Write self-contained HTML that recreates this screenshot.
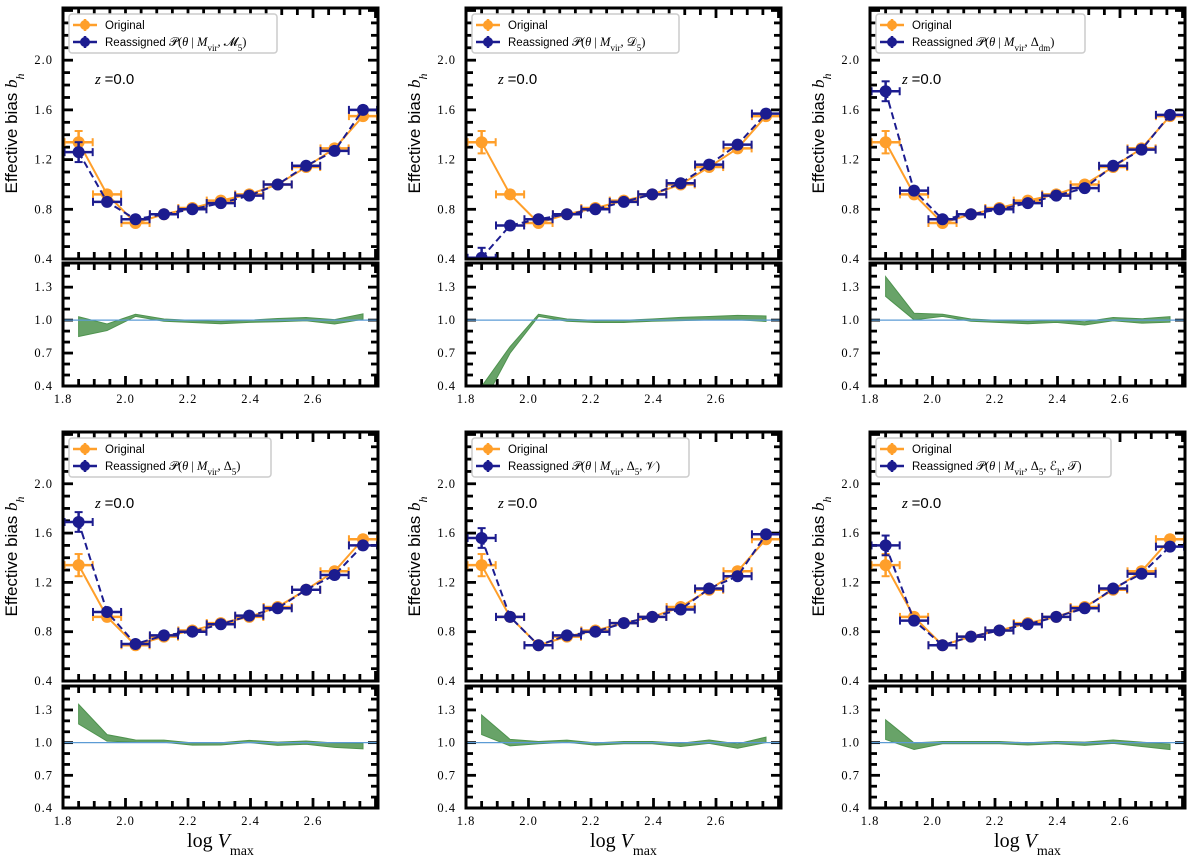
<!DOCTYPE html>
<html><head><meta charset="utf-8"><style>
body{margin:0;background:#fff;}
svg text{font-family:"Liberation Serif",serif;}
</style></head><body>
<svg id="fig" width="1200" height="858" xmlns="http://www.w3.org/2000/svg"></svg>
<script>
const xCenters=[1.85,1.941,2.032,2.123,2.214,2.305,2.396,2.487,2.578,2.669,2.76];
const original=[1.34,0.92,0.69,0.76,0.81,0.87,0.92,1.00,1.14,1.29,1.55];
const originalErr=[0.09,0.03,0.02,0.02,0.02,0.02,0.02,0.02,0.02,0.03,0.03];
const reM5=[1.26,0.86,0.72,0.76,0.80,0.85,0.91,1.00,1.15,1.27,1.60];
const reD5=[0.41,0.67,0.72,0.76,0.80,0.86,0.92,1.01,1.16,1.32,1.57];
const reDdm=[1.75,0.95,0.72,0.76,0.80,0.85,0.91,0.97,1.15,1.28,1.56];
const reDelta5=[1.69,0.96,0.70,0.77,0.80,0.86,0.93,0.99,1.14,1.26,1.50];
const reDelta5V=[1.56,0.92,0.69,0.77,0.80,0.87,0.92,0.98,1.15,1.25,1.59];
const reDelta5ET=[1.50,0.89,0.69,0.76,0.81,0.86,0.92,0.99,1.15,1.27,1.49];
const reErr=[0.08,0.03,0.02,0.02,0.02,0.02,0.02,0.02,0.02,0.03,0.03];
const bandHalf=[0.09,0.03,0.01,0.01,0.01,0.01,0.01,0.015,0.015,0.02,0.025];
const mainTicks=[0.4,0.8,1.2,1.6,2.0];
const ratioTicks=[0.4,0.7,1.0,1.3];
const xTicks=[1.8,2.0,2.2,2.4,2.6];
const labels=["\u{1D4DC}<tspan baseline-shift='sub' font-size='9'>5</tspan>","\u{1D49F}<tspan baseline-shift='sub' font-size='9'>5</tspan>","\u0394<tspan baseline-shift='sub' font-size='9'>dm</tspan>","\u0394<tspan baseline-shift='sub' font-size='9'>5</tspan>","\u0394<tspan baseline-shift='sub' font-size='9'>5</tspan>, \u{1D4B1}","\u0394<tspan baseline-shift='sub' font-size='9'>5</tspan>, \u2130<tspan baseline-shift='sub' font-size='9'>h</tspan>, \u{1D4AF}"];
const series=[reM5,reD5,reDdm,reDelta5,reDelta5V,reDelta5ET];
const NS="http://www.w3.org/2000/svg";
const fig=document.getElementById('fig');
function mk(tag,attrs,parent){const e=document.createElementNS(NS,tag);for(const k in attrs)e.setAttribute(k,attrs[k]);(parent||fig).appendChild(e);return e;}
const OR="#ff9f2a",BL="#1c1c8f";
const colX=[63,466,870],W=315;
const rows=[{mt:8,mb:259,rt:263,rb:386},{mt:432,mb:681,rt:686,rb:808}];
for(let p=0;p<6;p++){
  const c=p%3,r=Math.floor(p/3),L=colX[c],R=L+W,g=rows[r];
  const G=mk('g',{});
  
  
  const X=v=>L+(v-1.8)/(2.808-1.8)*W;
  const Ym=v=>g.mb-(v-0.4)/(2.42-0.4)*(g.mb-g.mt);
  const Yr=v=>g.rb-(v-0.4)/(1.52-0.4)*(g.rb-g.rt);
  const cid='cm'+p,rid='cr'+p;
  const d=mk('defs',{},G);
  mk('rect',{x:L,y:g.mt,width:W,height:g.mb-g.mt},mk('clipPath',{id:cid},d));
  mk('rect',{x:L,y:g.rt,width:W,height:g.rb-g.rt},mk('clipPath',{id:rid},d));
  function ticksX(top,bot){for(let v=1.8;v<2.81;v+=0.05){const x=X(v);const maj=Math.abs((v*10)%2)<0.01||Math.abs((v*10)%2-2)<0.01;const len=maj?10:7;mk('line',{x1:x,x2:x,y1:bot,y2:bot-len,stroke:'#000','stroke-width':2.8},G);mk('line',{x1:x,x2:x,y1:top,y2:top+len,stroke:'#000','stroke-width':2.8},G);}}
  ticksX(g.mt,g.mb);ticksX(g.rt,g.rb);
  for(let v=0.5;v<2.42;v+=0.1){const y=Ym(v);const maj=Math.abs(Math.round(v*10)%4)==0;const len=maj?10:7;mk('line',{x1:L,x2:L+len,y1:y,y2:y,stroke:'#000','stroke-width':2.8},G);mk('line',{x1:R,x2:R-len,y1:y,y2:y,stroke:'#000','stroke-width':2.8},G);}
  for(let v=0.5;v<1.52;v+=0.1){const y=Yr(v);const maj=Math.abs(Math.round(v*10)%3)==1;const len=maj?10:7;mk('line',{x1:L,x2:L+len,y1:y,y2:y,stroke:'#000','stroke-width':2.8},G);mk('line',{x1:R,x2:R-len,y1:y,y2:y,stroke:'#000','stroke-width':2.8},G);}
  mainTicks.forEach(v=>{const t=mk('text',{x:L-10,y:Ym(v)+4,'text-anchor':'end','font-size':12.5,'letter-spacing':1},G);t.textContent=v.toFixed(1);});
  ratioTicks.forEach(v=>{const t=mk('text',{x:L-10,y:Yr(v)+4,'text-anchor':'end','font-size':12.5,'letter-spacing':1},G);t.textContent=v.toFixed(1);});
  xTicks.forEach(v=>{const t=mk('text',{x:X(v),y:g.rb+17,'text-anchor':'middle','font-size':12.5,'letter-spacing':1},G);t.textContent=v.toFixed(1);});
  const yl=mk('text',{x:0,y:0,transform:`translate(${L-46},${(g.mt+g.mb)/2}) rotate(-90)`,'text-anchor':'middle','font-size':17,style:'font-family:"Liberation Sans",sans-serif'},G);
  
  
  yl.innerHTML="Effective bias <tspan font-style='italic' style='font-family:Liberation Serif,serif'>b</tspan><tspan baseline-shift='sub' font-size='12' font-style='italic' style='font-family:Liberation Serif,serif'>h</tspan>";
  if(r==1){const xl=mk('text',{x:(L+R)/2,y:847,'text-anchor':'middle','font-size':20},G);
    
    
    xl.innerHTML="log <tspan font-style='italic'>V</tspan><tspan baseline-shift='sub' font-size='14'>max</tspan>";}
  const dm=mk('g',{'clip-path':`url(#${cid})`},G);
  const re=series[p];
  function draw(vals,err,col,dash){
    mk('polyline',{points:xCenters.map((x,i)=>X(x)+','+Ym(vals[i])).join(' '),fill:'none',stroke:col,'stroke-width':2,'stroke-dasharray':dash||''},dm);
    xCenters.forEach((x,i)=>{const cx=X(x),cy=Ym(vals[i]);
      const e1=X(x-0.045),e2=X(x+0.045),y1=Ym(vals[i]-err[i]),y2=Ym(vals[i]+err[i]);
      mk('line',{x1:e1,x2:e2,y1:cy,y2:cy,stroke:col,'stroke-width':2.5},dm);
      mk('line',{x1:e1,x2:e1,y1:cy-4,y2:cy+4,stroke:col,'stroke-width':2},dm);
      mk('line',{x1:e2,x2:e2,y1:cy-4,y2:cy+4,stroke:col,'stroke-width':2},dm);
      mk('line',{x1:cx,x2:cx,y1:y1,y2:y2,stroke:col,'stroke-width':2.5},dm);
      mk('line',{x1:cx-4,x2:cx+4,y1:y1,y2:y1,stroke:col,'stroke-width':2},dm);
      mk('line',{x1:cx-4,x2:cx+4,y1:y2,y2:y2,stroke:col,'stroke-width':2},dm);
      const m=mk('circle',{cx:cx,cy:cy,r:6,fill:col},dm);
      
      
    });
  }
  draw(original,originalErr,OR);
  draw(re,reErr,BL,'7,4');
  const dr=mk('g',{'clip-path':`url(#${rid})`},G);
  const ratio=re.map((v,i)=>v/original[i]);
  const up=ratio.map((v,i)=>X(xCenters[i])+','+Yr(v+bandHalf[i]));
  const lo=ratio.map((v,i)=>X(xCenters[i])+','+Yr(v-bandHalf[i])).reverse();
  const band=mk('polygon',{points:up.concat(lo).join(' '),fill:'#4e934e','fill-opacity':0.85,stroke:'#4e934e','stroke-width':1},dr);
  
  
  mk('line',{x1:L,x2:R,y1:Yr(1),y2:Yr(1),stroke:'#5b9bd5','stroke-width':1.2},dr);
  mk('rect',{x:L,y:g.mt,width:W,height:g.mb-g.mt,fill:'none',stroke:'#000','stroke-width':3},G);
  mk('rect',{x:L,y:g.rt,width:W,height:g.rb-g.rt,fill:'none',stroke:'#000','stroke-width':3},G);
  const z=mk('text',{x:L+32,y:g.mt+76,'font-size':15},G);
  z.innerHTML="<tspan font-style='italic'>z</tspan> <tspan style='font-family:Liberation Sans,sans-serif'>=0.0</tspan>";
  const lg=mk('g',{},G);
  
  
  const lw=p==0?208:(p==1?207:(p==2?209:(p==3?202:(p==4?217:235))));
  mk('rect',{x:L+6,y:g.mt+6,width:lw,height:39,rx:3,fill:'#fff',stroke:'#ccc','stroke-width':1.5},lg);
  [[OR,'Original',g.mt+17],[BL,null,g.mt+34]].forEach(([col,txt,y])=>{
    mk('line',{x1:L+10,x2:L+34,y1:y,y2:y,stroke:col,'stroke-width':2.5},lg);
    mk('line',{x1:L+22,x2:L+22,y1:y-6,y2:y+6,stroke:col,'stroke-width':2.5},lg);
    mk('circle',{cx:L+22,cy:y,r:5,fill:col},lg);
    const t=mk('text',{x:L+42,y:y+4,'font-size':11.5,style:'font-family:"Liberation Sans",sans-serif'},lg);
    if(txt)t.textContent=txt;else t.innerHTML="Reassigned <tspan style='font-family:Liberation Serif,DejaVu Serif,serif' font-size='12.5'>\u{1D4AB}(<tspan font-style='italic'>\u03B8</tspan> | <tspan font-style='italic'>M</tspan><tspan baseline-shift='sub' font-size='9'>vir</tspan>, "+labels[p]+")</tspan>";
  });
}
</script>
</body></html>
